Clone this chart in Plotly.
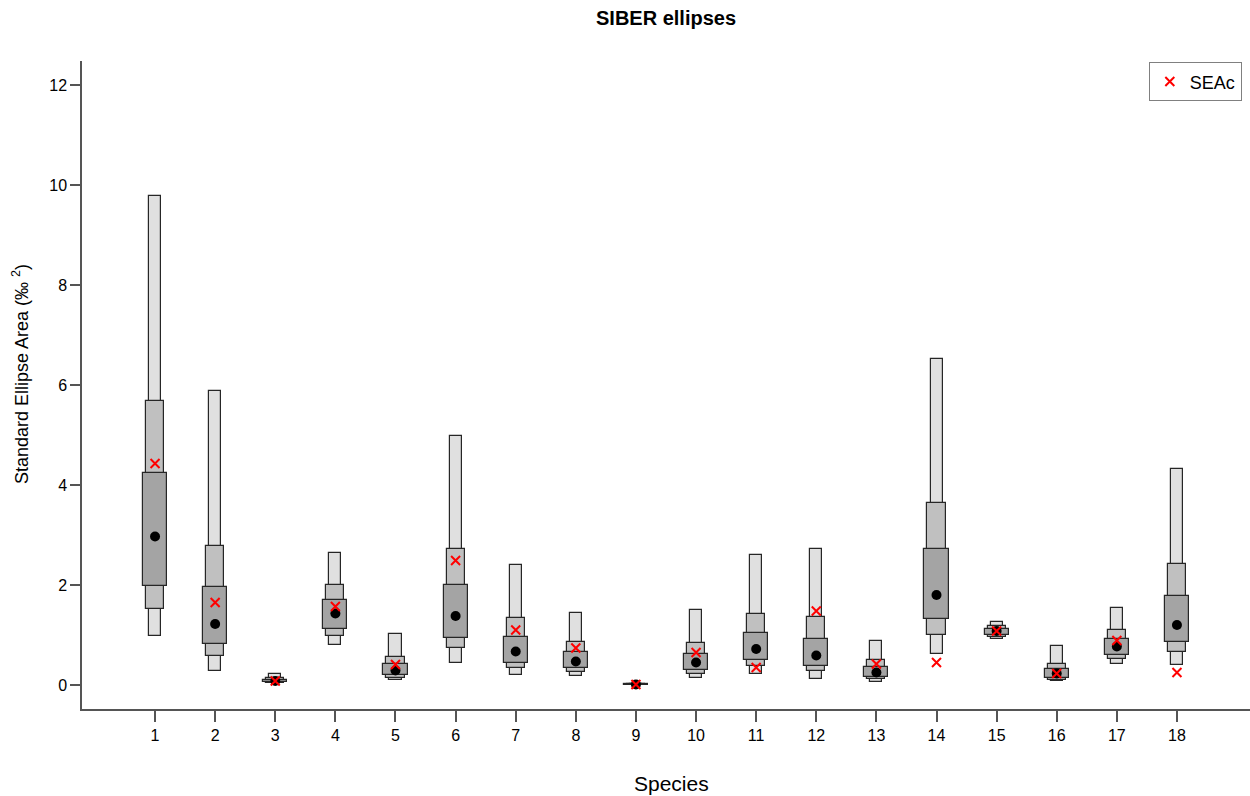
import plotly.graph_objects as go

# Posterior standard ellipse area per species (credible-interval boxes)
species = list(range(1, 19))
lo95 = [0.99, 0.29, 0.04, 0.81, 0.10, 0.44, 0.20, 0.18, 0.000, 0.15, 0.23, 0.13, 0.07, 0.62, 0.92, 0.08, 0.42, 0.40]
hi95 = [9.79, 5.89, 0.22, 2.65, 1.03, 4.99, 2.41, 1.45, 0.030, 1.50, 2.61, 2.72, 0.88, 6.53, 1.26, 0.79, 1.55, 4.32]
lo75 = [1.53, 0.59, 0.05, 0.99, 0.15, 0.75, 0.35, 0.27, 0.003, 0.23, 0.39, 0.28, 0.12, 1.01, 0.97, 0.11, 0.52, 0.67]
hi75 = [5.69, 2.79, 0.15, 2.01, 0.57, 2.73, 1.35, 0.87, 0.020, 0.85, 1.43, 1.37, 0.50, 3.64, 1.18, 0.43, 1.11, 2.42]
lo50 = [1.98, 0.83, 0.06, 1.13, 0.20, 0.94, 0.45, 0.35, 0.006, 0.30, 0.50, 0.38, 0.17, 1.32, 1.01, 0.15, 0.60, 0.86]
hi50 = [4.25, 1.97, 0.11, 1.70, 0.43, 2.01, 0.97, 0.67, 0.015, 0.63, 1.05, 0.93, 0.37, 2.72, 1.13, 0.33, 0.93, 1.78]
mode = [2.97, 1.22, 0.08, 1.43, 0.29, 1.38, 0.67, 0.47, 0.010, 0.45, 0.72, 0.59, 0.25, 1.80, 1.08, 0.23, 0.77, 1.20]
seac = [4.43, 1.65, 0.08, 1.57, 0.41, 2.49, 1.10, 0.74, 0.010, 0.65, 0.35, 1.48, 0.42, 0.45, 1.08, 0.23, 0.89, 0.25]

y_ticks = [0, 2, 4, 6, 8, 10, 12]

FONT = "Liberation Sans, Arial, sans-serif"
EDGE = "#262626"
AXIS = "#555555"

fig = go.Figure()

# nested interval boxes: widest interval drawn narrowest and first
for lo, hi, w, col in [(lo95, hi95, 0.2, "#e0e0e0"),
                       (lo75, hi75, 0.3, "#c0c0c0"),
                       (lo50, hi50, 0.4, "#a4a4a4")]:
    fig.add_trace(go.Bar(
        x=species, y=[h - l for h, l in zip(hi, lo)], base=lo, width=w,
        marker=dict(color=col, line=dict(color=EDGE, width=1.2)),
        showlegend=False, hoverinfo="skip"))

fig.add_trace(go.Scatter(
    x=species, y=mode, mode="markers",
    marker=dict(symbol="circle", size=10, color="black"),
    showlegend=False))

fig.add_trace(go.Scatter(
    x=species, y=seac, mode="markers", name="SEAc",
    marker=dict(symbol="x-thin", size=9, color="red",
                line=dict(color="red", width=2))))

fig.update_layout(
    width=1250, height=796,
    margin=dict(l=82, r=0, t=61, b=87),
    paper_bgcolor="white", plot_bgcolor="white",
    barmode="overlay", bargap=0,
    font=dict(family=FONT, size=15, color="black"),
    showlegend=True,
    legend=dict(x=0.993, y=0.998, xanchor="right", yanchor="top",
                bordercolor="#808080", borderwidth=1,
                font=dict(size=18), itemwidth=30,
                tracegroupgap=0),
    annotations=[
        dict(text="<b>SIBER ellipses</b>", xref="paper", yref="paper",
             x=(666 - 82) / 1168, y=(709 - 18) / 648, showarrow=False,
             xanchor="center", yanchor="middle", font=dict(size=20)),
        dict(text="Species", xref="paper", yref="paper",
             x=(671 - 82) / 1168, y=(709 - 783) / 648, showarrow=False,
             xanchor="center", yanchor="middle", font=dict(size=21)),
        dict(text="Standard Ellipse Area (‰ <sup>2</sup>)", xref="paper", yref="paper",
             x=(20 - 82) / 1168, y=(709 - 374) / 648, showarrow=False,
             textangle=-90, xanchor="center", yanchor="middle",
             font=dict(size=18)),
    ],
)

fig.update_xaxes(
    range=[-0.215, 19.215], tickmode="array", tickvals=species,
    ticktext=[str(s) for s in species],
    showline=True, linecolor=AXIS, linewidth=1.5,
    ticks="outside", ticklen=11, tickcolor=AXIS, tickwidth=1.5,
    showgrid=False, zeroline=False, tickfont=dict(size=16))

fig.update_yaxes(
    range=[-0.48, 12.48], tickmode="array", tickvals=y_ticks,
    showline=True, linecolor=AXIS, linewidth=1.5,
    ticks="outside", ticklen=10, tickcolor=AXIS, tickwidth=1.5,
    showgrid=False, zeroline=False, tickfont=dict(size=16))

fig.write_html("out.html")
